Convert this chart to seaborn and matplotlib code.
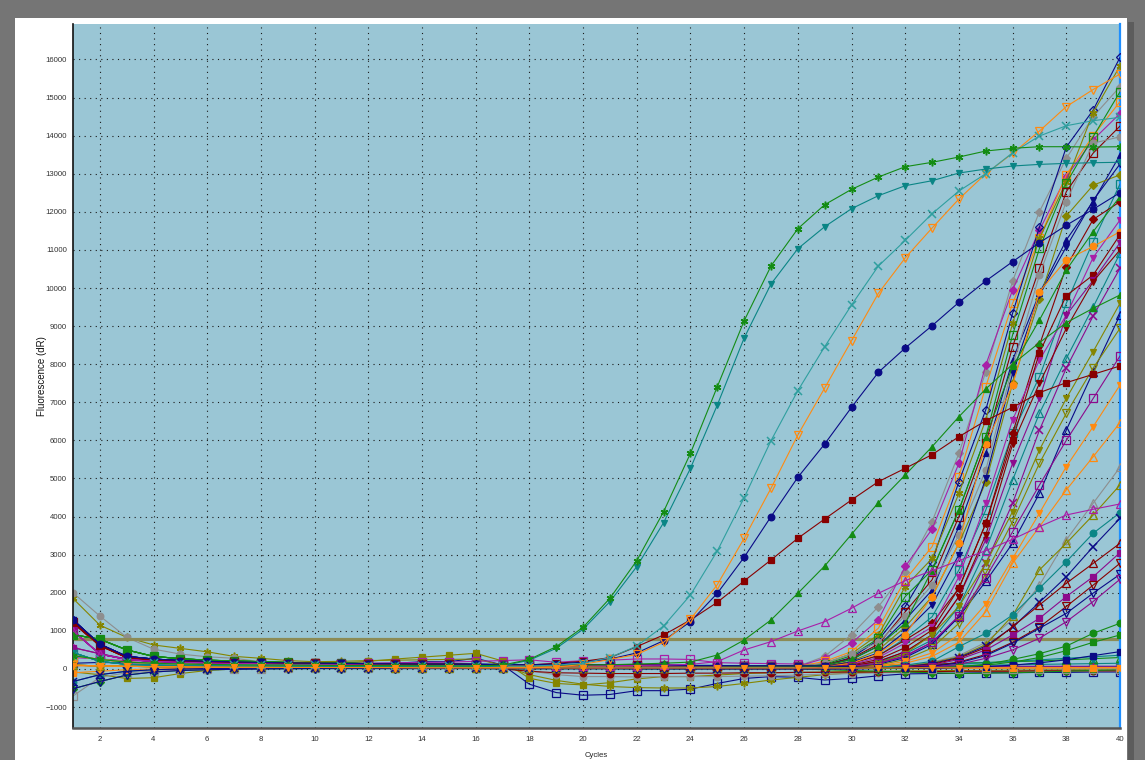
import matplotlib
matplotlib.use("Agg")
import matplotlib.pyplot as plt
import seaborn as sns
from matplotlib.patches import Rectangle
from matplotlib.ticker import MultipleLocator

# ---------------------------------------------------------------- data
cycles = list(range(1, 41))
threshold = 780
y_ticks_major = 1000
x_ticks_major = 2

# baseline sections (cycles 1-28) shared by wells with the same starting signal
base_navy = [1290, 650, 330, 260, 220, 200, 185, 170, 160, 150, 145, 140, 135, 130, 125, 120, 115, 110, 105, 100, 100, 95, 95, 90, 90, 85, 85, 80]
base_red = [1220, 620, 300, 240, 210, 190, 175, 165, 155, 150, 140, 135, 130, 125, 120, 115, 110, 105, 100, 100, 95, 95, 90, 90, 85, 85, 80, 80]
base_purple = [1000, 390, 250, 200, 180, 160, 150, 140, 130, 125, 120, 115, 110, 105, 100, 100, 95, 95, 90, 90, 85, 85, 80, 80, 80, 75, 75, 75]
base_green = [900, 780, 500, 330, 270, 230, 210, 190, 170, 160, 150, 140, 130, 125, 120, 115, 110, 105, 100, 100, 95, 90, 90, 85, 85, 80, 80, 80]
base_magenta = [560, 400, 260, 200, 170, 150, 140, 130, 125, 120, 115, 110, 105, 100, 100, 95, 95, 90, 90, 85, 85, 80, 80, 80, 75, 75, 75, 70]
base_mid = [350, 250, 180, 150, 130, 120, 110, 105, 100, 95, 90, 90, 85, 85, 80, 80, 75, 75, 70, 70, 70, 65, 65, 65, 60, 60, 60, 60]
base_teal = [430, 200, 120, 100, 90, 80, 75, 70, 65, 60, 60, 55, 55, 50, 50, 50, 45, 45, 45, 40, 40, 40, 40, 35, 35, 35, 30, 30]
base_low = [100, 80, 70, 60, 55, 50, 50, 45, 45, 40, 40, 40, 35, 35, 35, 30, 30, 30, 30, 25, 25, 25, 25, 20, 20, 20, 20, 20]
base_neg = [-330, -150, -60, -20, 0, 10, 15, 20, 20, 25, 25, 25, 25, 25, 25, 20, 20, 20, 20, 15, 15, 15, 15, 10, 10, 10, 10, 10]
base_neg2 = [-520, -330, -160, -80, -40, -20, -10, 0, 5, 10, 10, 10, 10, 10, 10, 10, 5, 5, 5, 5, 5, 0, 0, 0, 0, 0, 0, 0]

# late-amplifying wells, cycles 29-40
t_gray_dia = [330, 900, 1635, 2554, 3866, 5661, 7800, 10184, 12008, 13403, 14500, 15285]
t_mag_dia = [280, 680, 1290, 2690, 3670, 5400, 7980, 9950, 11520, 12920, 13890, 14580]
t_orange_sq = [200, 455, 1070, 2340, 3210, 5050, 7410, 9600, 11300, 12970, 14000, 14890]
t_navy_dia = [100, 300, 760, 1640, 2820, 4920, 6800, 9340, 11600, 13700, 14670, 16055]
t_olive_plus = [150, 400, 900, 2160, 2900, 4610, 6540, 9070, 11300, 12790, 14600, 15830]
t_green_sq = [120, 350, 800, 1900, 2600, 4170, 6100, 8770, 11040, 12750, 13970, 15150]
t_red_sq_open = [100, 280, 650, 1500, 2340, 4000, 5920, 8460, 10520, 12530, 13540, 14250]
t_navy_tri = [90, 250, 600, 1290, 2070, 3740, 5660, 8110, 9860, 11260, 12270, 13490]
t_gray_circ = [150, 400, 700, 1400, 2200, 3520, 5220, 7940, 10340, 12270, 13800, 13970]
t_olive_dia = [80, 200, 500, 1100, 1900, 3300, 4900, 7500, 9700, 11890, 12700, 12970]
t_teal_sq = [60, 150, 350, 800, 1370, 2600, 4170, 6190, 7670, 9600, 11220, 12730]
t_navy_tridown = [70, 180, 420, 980, 1680, 3000, 5000, 7760, 9820, 11080, 12300, 13255]
t_red_dia = [50, 150, 350, 760, 1200, 2120, 3820, 6190, 8500, 10560, 11800, 12265]
t_mag_tridown = [40, 120, 300, 680, 1100, 2420, 4350, 6540, 8110, 9290, 10800, 11785]
t_orange_circ = [60, 150, 400, 900, 1900, 3300, 5900, 7450, 9900, 10740, 11090, 11478]
t_red_sq = [40, 100, 250, 560, 1020, 2120, 3820, 6010, 8300, 9800, 10340, 11400]
t_purple_tridown = [30, 90, 200, 450, 900, 1900, 3390, 5400, 7100, 9290, 10200, 11189]
t_teal_tri_open = [30, 80, 180, 400, 760, 1640, 3120, 4960, 6710, 8150, 9500, 10910]
t_purple_x = [20, 60, 150, 330, 700, 1370, 2770, 4350, 6270, 7900, 9265, 10517]
t_green_tri = [100, 250, 600, 1200, 2600, 4170, 6100, 7940, 9160, 10470, 11480, 12400]
t_red_tridown = [30, 80, 200, 450, 900, 1900, 3520, 5900, 7500, 8940, 10170, 11000]
t_olive_tridown = [20, 60, 150, 400, 900, 1640, 2770, 4130, 5750, 7100, 8330, 9598]
t_navy_tri_open = [20, 50, 120, 300, 650, 1370, 2300, 3300, 4610, 6270, 7800, 9291]
t_olive_tridown_open = [10, 40, 100, 250, 550, 1200, 2510, 3870, 5400, 6710, 7900, 8942]
t_purple_sq_open = [30, 70, 150, 350, 700, 1400, 2400, 3600, 4830, 6000, 7100, 8215]
t_orange_tridown = [10, 30, 80, 200, 420, 900, 1700, 2900, 4090, 5310, 6360, 7454]
t_orange_tri_open = [10, 20, 60, 150, 330, 700, 1500, 2770, 3735, 4700, 5570, 6465]
t_gray_tri_open = [10, 10, 30, 80, 180, 350, 700, 1300, 2200, 3390, 4350, 5294]
t_olive_tri_open = [10, 10, 30, 70, 160, 320, 640, 1400, 2600, 3300, 4040, 4829]
t_teal_circ = [20, 10, 40, 100, 200, 586, 936, 1417, 2118, 2816, 3561, 4103]
t_navy_x = [10, 10, 20, 60, 140, 300, 600, 1100, 1750, 2420, 3210, 3954]
t_red_tri_open = [60, 40, 20, 50, 120, 280, 560, 1110, 1680, 2250, 2770, 3299]
t_purple_sq = [50, 30, 20, 50, 100, 250, 499, 892, 1330, 1900, 2420, 3053]
t_red_tridown_open = [60, 30, 10, 30, 80, 180, 380, 700, 1100, 1640, 2200, 2774]
t_navy_tridown_open = [0, 0, 10, 30, 70, 160, 350, 674, 1068, 1460, 1990, 2485]
t_purple_tridown_open = [60, 30, 20, 20, 50, 120, 280, 500, 805, 1240, 1770, 2354]
t_green_circ = [60, 40, 20, 10, 30, 60, 120, 250, 400, 600, 936, 1199]
t_green_sq2 = [60, 40, 20, 10, 20, 50, 100, 180, 300, 480, 700, 892]
t_navy_sq = [80, 60, 40, 30, 10, 30, 60, 100, 160, 240, 350, 455]

# early-amplifying wells, cycles 1-40
e_green_star = [350, 250, 180, 150, 130, 120, 110, 100, 100, 95, 90, 90, 85, 85, 80, 80, 100, 250, 586, 1094, 1855, 2843, 4129, 5661, 7410, 9140, 10577, 11556, 12187, 12590, 12913, 13184, 13299, 13438, 13596, 13667, 13709, 13709, 13700, 13709]
e_teal_tridown = [430, 200, 120, 100, 90, 80, 75, 70, 65, 60, 60, 55, 55, 50, 50, 50, 80, 230, 542, 1042, 1767, 2686, 3841, 5267, 6929, 8688, 10105, 11032, 11609, 12082, 12423, 12685, 12816, 13018, 13123, 13202, 13245, 13271, 13289, 13300]
e_teal_x = [350, 250, 180, 150, 130, 120, 110, 105, 100, 95, 90, 90, 85, 85, 80, 80, 75, 75, 100, 150, 300, 600, 1129, 1942, 3097, 4497, 5993, 7305, 8460, 9554, 10577, 11250, 11950, 12546, 13000, 13550, 13990, 14260, 14392, 14480]
e_orange_tridown = [100, 80, 70, 60, 55, 50, 50, 45, 45, 40, 40, 40, 35, 35, 35, 30, 30, 30, 50, 120, 250, 380, 700, 1304, 2213, 3430, 4742, 6142, 7375, 8617, 9860, 10790, 11575, 12336, 13000, 13535, 14121, 14762, 15210, 15617]
e_navy_circ = [1290, 650, 330, 260, 220, 200, 185, 170, 160, 150, 145, 140, 135, 130, 125, 120, 115, 110, 130, 180, 260, 420, 743, 1242, 1986, 2932, 3998, 5031, 5906, 6868, 7787, 8425, 9011, 9624, 10184, 10691, 11189, 11646, 12066, 12502]
e_red_sq = [1220, 620, 300, 240, 210, 190, 175, 165, 155, 150, 140, 135, 130, 125, 120, 115, 110, 105, 150, 200, 297, 586, 892, 1286, 1750, 2310, 2861, 3430, 3937, 4436, 4917, 5267, 5625, 6097, 6517, 6868, 7253, 7515, 7734, 7953]
e_green_tri = [900, 780, 500, 330, 270, 230, 210, 190, 170, 160, 150, 140, 130, 125, 120, 115, 110, 105, 100, 100, 110, 130, 150, 180, 367, 761, 1286, 1986, 2703, 3535, 4365, 5092, 5835, 6622, 7350, 8000, 8566, 9090, 9467, 9816]
e_purple_tri_open = [1000, 390, 250, 200, 180, 160, 150, 140, 130, 125, 120, 115, 110, 105, 100, 100, 95, 95, 90, 90, 85, 90, 100, 120, 192, 499, 717, 997, 1242, 1593, 1986, 2318, 2580, 2843, 3105, 3404, 3735, 4042, 4191, 4331]

# wells that stay at baseline, cycles 1-40
f_navy_sq_open = [150, 170, 160, 160, 150, 150, 150, 140, 140, 140, 140, 145, 150, 190, 190, 280, 105, -400, -620, -690, -670, -570, -570, -530, -380, -250, -200, -220, -290, -250, -180, -130, -120, -110, -100, -100, -90, -90, -80, -80]
f_olive_plus = [1850, 1150, 830, 630, 540, 450, 330, 280, 220, 190, 200, 220, 230, 240, 250, 260, 100, -150, -300, -400, -460, -490, -500, -500, -460, -380, -290, -220, -150, -100, -80, -70, -60, -50, -50, -40, -40, -30, -30, -30]
f_olive_sq = [-80, -150, -250, -230, -120, -40, 0, 30, 60, 100, 150, 200, 260, 310, 360, 410, 210, -245, -380, -420, -360, -260, -200, -200, -160, -120, -100, -90, -80, -70, -60, -50, -50, -40, -40, -30, -30, -20, -20, -20]
f_gray_circ = [2000, 1390, 830, 520, 390, 320, 280, 190, 160, 130, 120, 110, 100, 90, 90, 80, 60, -50, -150, -200, -200, -210, -200, -200, -200, -190, -180, -160, -140, -120, -100, -90, -80, -70, -60, -60, -50, -50, -50, -50]
f_mag_sq_open = [300, 260, 220, 200, 180, 170, 160, 160, 150, 150, 150, 150, 160, 170, 180, 200, 220, 240, 175, 218, 230, 262, 262, 250, 166, 150, 140, 130, 120, 100, 90, 80, 80, 70, 70, 60, 60, 60, 50, 50]
f_red_line = [1200, 600, 300, 230, 190, 160, 140, 120, 100, 90, 80, 70, 60, 50, 40, 30, 0, -60, -100, -110, -120, -120, -120, -110, -110, -100, -100, -90, -90, -80, -80, -70, -70, -60, -60, -60, -50, -50, -50, -50]
f_green_dia = [-520, -330, -160, -80, -40, -20, -10, 0, 5, 10, 10, 10, 10, 10, 10, 10, 5, 5, 5, 5, 5, 0, 0, 0, 0, 0, 0, 0, -20, -40, -60, -80, -100, -120, -110, -100, -80, -60, -40, -20]
f_gray_sq_open = [-710, -220, -100, -60, -30, -10, 0, 10, 20, 20, 20, 20, 20, 20, 20, 20, 20, 20, 20, 15, 15, 15, 15, 10, 10, 10, 10, 10, 10, 10, 10, 10, 10, 10, 10, 10, 5, 5, 5, 5]
f_teal_line = [-330, -150, -60, -20, 0, 10, 20, 25, 30, 30, 30, 30, 30, 30, 30, 30, 30, 30, 30, 30, 35, 35, 35, 35, 40, 40, 40, 40, 45, 45, 50, 50, 50, 55, 55, 60, 60, 60, 65, 65]
f_blue_dia = [1290, 650, 330, 260, 220, 200, 185, 170, 160, 150, 145, 140, 135, 130, 125, 120, 115, 110, 105, 100, 100, 95, 95, 90, 90, 85, 85, 80, 80, 80, 80, 85, 90, 95, 100, 110, 120, 130, 140, 150]
f_green_tri_open = [900, 780, 500, 330, 270, 230, 210, 190, 170, 160, 150, 140, 130, 125, 120, 115, 110, 105, 100, 100, 95, 90, 90, 85, 85, 80, 80, 80, 85, 90, 100, 110, 130, 150, 170, 190, 210, 240, 270, 300]
f_purple_line = [1000, 390, 250, 200, 180, 160, 150, 140, 130, 125, 120, 115, 110, 105, 100, 100, 95, 95, 90, 90, 85, 85, 80, 80, 80, 75, 75, 75, 70, 70, 70, 70, 70, 70, 70, 70, 70, 70, 70, 70]
f_teal_circ = [430, 200, 120, 100, 90, 80, 75, 70, 65, 60, 60, 55, 55, 50, 50, 50, 45, 45, 45, 40, 40, 40, 40, 35, 35, 35, 30, 30, 40, 50, 60, 80, 100, 130, 160, 200, 240, 280, 320, 360]
f_orange_sq = [-100, -60, -20, 0, 10, 20, 20, 25, 25, 25, 30, 30, 30, 30, 30, 25, 25, 20, 20, 20, 15, 15, 15, 10, 10, 10, 10, 10, 10, 10, 15, 15, 20, 20, 25, 25, 30, 30, 30, 30]
f_orange = [80, 80, 70, 60, 55, 50, 45, 45, 40, 40, 35, 35, 35, 30, 30, 30, 30, 30, 25, 25, 25, 25, 25, 25, 25, 25, 25, 25, 25, 25, 25, 30, 30, 30, 30, 30, 30, 35, 35, 35]

# ---------------------------------------------------------------- colours
NAVY = "#0a0a86"
DKRED = "#880000"
GREEN = "#148c14"
TEAL = "#0a8585"
TEAL2 = "#2f9f9f"
PURPLE = "#8c0a8c"
MAGENTA = "#a81fa8"
OLIVE = "#858500"
GRAY = "#8e8e8e"
ORANGE = "#ff8a10"
STAR = (6, 2, 0)

# (values, colour, marker, filled)
baseline_wells = [
    (f_navy_sq_open, NAVY, "s", False),
    (f_olive_plus, OLIVE, STAR, True),
    (f_olive_sq, OLIVE, "s", True),
    (f_gray_circ, GRAY, "o", True),
    (f_mag_sq_open, MAGENTA, "s", False),
    (f_red_line, DKRED, "o", True),
    (f_green_dia, GREEN, "D", True),
    (f_gray_sq_open, GRAY, "s", False),
    (f_teal_line, TEAL, "o", True),
    (f_blue_dia, TEAL, "D", True),
    (f_green_tri_open, GREEN, "^", False),
    (f_purple_line, PURPLE, "^", True),
    (f_teal_circ, TEAL, "o", True),
    (f_orange_sq, ORANGE, "s", True),
]

late_wells = [
    (base_magenta + t_gray_dia, GRAY, "D", True),
    (base_magenta + t_mag_dia, MAGENTA, "D", True),
    (base_mid + t_orange_sq, ORANGE, "s", False),
    (base_navy + t_navy_dia, NAVY, "D", False),
    (base_low + t_olive_plus, OLIVE, STAR, True),
    (base_green + t_green_sq, GREEN, "s", False),
    (base_red + t_red_sq_open, DKRED, "s", False),
    (base_navy + t_navy_tri, NAVY, "^", True),
    (base_mid + t_gray_circ, GRAY, "o", True),
    (base_low + t_olive_dia, OLIVE, "D", True),
    (base_teal + t_teal_sq, TEAL, "s", False),
    (base_navy + t_navy_tridown, NAVY, "v", True),
    (base_red + t_red_dia, DKRED, "D", True),
    (base_purple + t_mag_tridown, MAGENTA, "v", True),
    (base_mid + t_orange_circ, ORANGE, "o", True),
    (base_red + t_red_sq, DKRED, "s", True),
    (base_purple + t_purple_tridown, PURPLE, "v", True),
    (base_teal + t_teal_tri_open, TEAL, "^", False),
    (base_purple + t_purple_x, PURPLE, "x", True),
    (base_green + t_green_tri, GREEN, "^", True),
    (base_red + t_red_tridown, DKRED, "v", True),
    (base_low + t_olive_tridown, OLIVE, "v", True),
    (base_navy + t_navy_tri_open, NAVY, "^", False),
    (base_low + t_olive_tridown_open, OLIVE, "v", False),
    (base_purple + t_purple_sq_open, PURPLE, "s", False),
    (base_mid + t_orange_tridown, ORANGE, "v", True),
    (base_mid + t_orange_tri_open, ORANGE, "^", False),
    (base_low + t_gray_tri_open, GRAY, "^", False),
    (base_low + t_olive_tri_open, OLIVE, "^", False),
    (base_teal + t_teal_circ, TEAL, "o", True),
    (base_neg + t_navy_x, NAVY, "x", True),
    (base_red + t_red_tri_open, DKRED, "^", False),
    (base_magenta + t_purple_sq, PURPLE, "s", True),
    (base_red + t_red_tridown_open, DKRED, "v", False),
    (base_neg2 + t_navy_tridown_open, NAVY, "v", False),
    (base_purple + t_purple_tridown_open, PURPLE, "v", False),
    (base_green + t_green_circ, GREEN, "o", True),
    (base_green + t_green_sq2, GREEN, "s", True),
    (base_navy + t_navy_sq, NAVY, "s", True),
]

early_wells = [
    (e_purple_tri_open, MAGENTA, "^", False),
    (e_green_tri, GREEN, "^", True),
    (e_red_sq, DKRED, "s", True),
    (e_navy_circ, NAVY, "o", True),
    (e_orange_tridown, ORANGE, "v", False),
    (e_teal_x, TEAL2, "x", True),
    (e_teal_tridown, TEAL, "v", True),
    (e_green_star, GREEN, STAR, True),
]

# ---------------------------------------------------------------- figure
sns.set_theme(style="white")
plt.rcParams["font.family"] = ["Liberation Sans", "DejaVu Sans"]

W, H = 1145, 767
fig = plt.figure(figsize=(W / 100, H / 100), dpi=100, facecolor="white")


def frame_rect(x0, y0, x1, y1, color):
    fig.add_artist(Rectangle((x0 / W, 1 - y1 / H), (x1 - x0) / W, (y1 - y0) / H,
                             transform=fig.transFigure, facecolor=color,
                             edgecolor="none", zorder=-10))


frame_rect(0, 0, W, 18, "#757575")
frame_rect(0, 0, 15, 760, "#757575")
frame_rect(1127, 0, W, 760, "#757575")
frame_rect(1128, 22, 1134, 760, "#5c5c5c")

ax = fig.add_axes([73 / W, 1 - 728 / H, (1120 - 73) / W, (728 - 24) / H])
ax.set_facecolor("#9ac6d5")


def draw_well(values, color, marker, filled, z=2):
    line_marker = marker in ("x", "+") or isinstance(marker, tuple)
    if marker == "D":
        ms = 4.2
    elif line_marker:
        ms = 5.5
    else:
        ms = 4.8 if filled else 5.4
    sns.lineplot(x=cycles, y=values, ax=ax, color=color, marker=marker,
                 markersize=ms,
                 markerfacecolor=(color if filled else "none"),
                 markeredgecolor=color,
                 markeredgewidth=(1.1 if line_marker else 0.9),
                 linewidth=0.8, zorder=z, estimator=None, sort=False,
                 errorbar=None, legend=False)


for vals, col, mk, fill in baseline_wells:
    draw_well(vals, col, mk, fill, z=2)
for vals, col, mk, fill in late_wells:
    draw_well(vals, col, mk, fill, z=3)
for vals, col, mk, fill in early_wells:
    draw_well(vals, col, mk, fill, z=4)
draw_well(f_orange, ORANGE, "v", True, z=4.5)

ax.axhline(threshold, color="#8b8b55", linewidth=2.3, zorder=2.5)

# ---------------------------------------------------------------- axes
ax.set_xlim(1, 40)
ax.set_ylim(-1550, 16930)
ax.xaxis.set_major_locator(MultipleLocator(x_ticks_major))
ax.xaxis.set_minor_locator(MultipleLocator(1))
ax.yaxis.set_major_locator(MultipleLocator(y_ticks_major))
ax.yaxis.set_minor_locator(MultipleLocator(y_ticks_major / 2))

ax.set_axisbelow(True)
ax.grid(True, which="major", color="#1a1a1a", linestyle=(0, (1, 4)), linewidth=0.8)

ax.tick_params(which="both", direction="out", length=3, width=0.8, color="#222222",
               labelsize=5.6, labelcolor="#333333", pad=1.5)
ax.tick_params(axis="x", which="both", pad=3)

for side in ("top",):
    ax.spines[side].set_visible(False)
ax.spines["left"].set_color("#111111")
ax.spines["left"].set_linewidth(1.2)
ax.spines["bottom"].set_color("#555555")
ax.spines["bottom"].set_linewidth(1.8)
ax.spines["right"].set_color("#1e8fff")
ax.spines["right"].set_linewidth(1.6)

ax.set_xlabel("Cycles", fontsize=5.6, color="#222222")
ax.set_ylabel("Fluorescence (dR)", fontsize=7, color="#111111")
ax.xaxis.set_label_coords(0.5, -0.034)
ax.yaxis.set_label_coords(-0.025, 0.5)

fig.savefig("out.png", dpi=100)
